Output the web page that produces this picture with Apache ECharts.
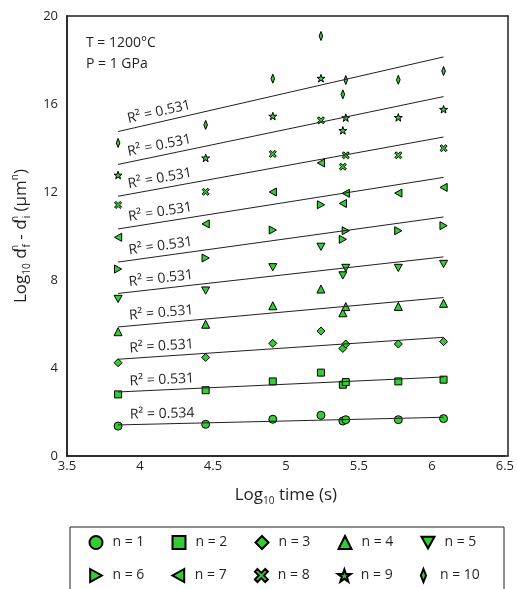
<!DOCTYPE html>
<html>
<head>
<meta charset="utf-8">
<script src="https://cdn.jsdelivr.net/npm/echarts@6/dist/echarts.min.js"></script>
<style>
html,body{margin:0;padding:0;background:#fff;}
#wrap{position:relative;width:517px;height:589px;}
#chart,#frame{position:absolute;left:0;top:0;width:517px;height:589px;}
#frame{pointer-events:none;}
</style>
</head>
<body>
<div id="wrap"><div id="chart"></div><div id="frame"></div></div>
<script>
// ---- data ----
const logTime = [3.85, 4.45, 4.91, 5.24, 5.39, 5.41, 5.77, 6.08];
const n1  = [1.36, 1.44, 1.67, 1.85, 1.59, 1.65, 1.65, 1.70];
const n2  = [2.80, 2.99, 3.39, 3.79, 3.24, 3.36, 3.39, 3.47];
const n3  = [4.24, 4.48, 5.12, 5.68, 4.89, 5.09, 5.09, 5.20];
const n4  = [5.65, 5.99, 6.83, 7.59, 6.51, 6.79, 6.80, 6.94];
const n5  = [7.14, 7.52, 8.58, 9.51, 8.21, 8.55, 8.55, 8.73];
const n6  = [8.50, 9.00, 10.27, 11.42, 9.85, 10.24, 10.24, 10.47];
const n7  = [9.94, 10.55, 12.00, 13.32, 11.48, 11.94, 11.95, 12.21];
const n8  = [11.41, 12.01, 13.73, 15.26, 13.15, 13.67, 13.67, 13.99];
const n9  = [12.77, 13.55, 15.45, 17.17, 14.80, 15.38, 15.39, 15.76];
const n10 = [14.23, 15.05, 17.15, 19.09, 16.44, 17.09, 17.10, 17.50];
const seriesNames = ['n = 1','n = 2','n = 3','n = 4','n = 5','n = 6','n = 7','n = 8','n = 9','n = 10'];
const rSquared = ['0.534','0.531','0.531','0.531','0.531','0.531','0.531','0.531','0.531','0.531'];
const xTicks = {min: 3.5, max: 6.5, interval: 0.5};
const yTicks = {min: 0, max: 20, interval: 4};

// ---- styles ----
const FONT = 'Open Sans';
const INK = '#231f20';
const GREEN = '#33cc33';
const GRID = {left: 67, right: 9, top: 16, bottom: 133};
const symbols = [
  'circle',
  'rect',
  'diamond',
  'triangle',
  'path://M0,0L10,0L5,9Z',
  'path://M0,0L9,5L0,10Z',
  'path://M9,0L0,5L9,10Z',
  'path://M0,2L2,0L5,3L8,0L10,2L7,5L10,8L8,10L5,7L2,10L0,8L3,5Z',
  'path://M50,0L61.8,35.1L97.6,34.5L68.9,56L79.4,90.5L50,69.5L20.6,90.5L31.1,56L2.4,34.5L38.2,35.1Z',
  'path://M2,0L4,5L2,10L0,5Z'
];
const symSizes = [8, 7, 8, 8, 8, 8, 8, 7, 8, 9];
const allY = [n1, n2, n3, n4, n5, n6, n7, n8, n9, n10];

function fit(xs, ys) {
  const n = xs.length;
  const mx = xs.reduce((a, b) => a + b, 0) / n;
  const my = ys.reduce((a, b) => a + b, 0) / n;
  let sxy = 0, sxx = 0;
  for (let i = 0; i < n; i++) { sxy += (xs[i] - mx) * (ys[i] - my); sxx += (xs[i] - mx) ** 2; }
  const b = sxy / sxx;
  return {b: b, a: my - b * mx};
}

const xMin = Math.min(...logTime), xMax = Math.max(...logTime);
const series = allY.map((ys, i) => {
  const f = fit(logTime, ys);
  return {
    name: seriesNames[i],
    type: 'scatter',
    data: logTime.map((x, j) => [x, ys[j]]),
    symbol: symbols[i],
    symbolSize: symSizes[i],
    symbolKeepAspect: true,
    itemStyle: {color: GREEN, borderColor: '#000', borderWidth: 1, opacity: 1},
    emphasis: {disabled: true},
    markLine: {
      silent: true,
      symbol: ['none', 'none'],
      animation: false,
      lineStyle: {color: INK, width: 1, type: 'solid'},
      label: {
        show: true,
        position: 'insideStartTop',
        distance: [12, 3],
        formatter: 'R\u00b2 = ' + rSquared[i],
        fontFamily: FONT,
        fontSize: 14,
        color: INK
      },
      emphasis: {disabled: true},
      data: [[{coord: [xMin, f.a + f.b * xMin]}, {coord: [xMax, f.a + f.b * xMax]}]]
    }
  };
});

const rich = {
  m: {fontFamily: FONT, fontSize: 17, color: INK, lineHeight: 22, verticalAlign: 'middle'},
  sub: {fontFamily: FONT, fontSize: 10, color: INK, lineHeight: 10, verticalAlign: 'bottom'},
  sup: {fontFamily: FONT, fontSize: 10, color: INK, lineHeight: 10, verticalAlign: 'top'},
  supz: {fontFamily: FONT, fontSize: 10, color: INK, lineHeight: 10, verticalAlign: 'top', width: 1}
};

// main chart: points, fits, labels, axis titles, legend
const chart = echarts.init(document.getElementById('chart'));
chart.setOption({
  animation: false,
  backgroundColor: '#fff',
  textStyle: {fontFamily: FONT, color: INK},
  title: {
    text: 'T = 1200\u00b0C\nP = 1 GPa',
    left: 86, top: 33, padding: 0,
    textStyle: {fontFamily: FONT, fontSize: 14, fontWeight: 'normal', color: INK, lineHeight: 20.5}
  },
  grid: GRID,
  xAxis: {
    type: 'value', position: 'bottom', min: xTicks.min, max: xTicks.max, interval: xTicks.interval,
    axisLine: {show: true, lineStyle: {color: INK, width: 1.5}},
    axisTick: {show: false},
    splitLine: {show: false},
    axisLabel: {fontFamily: FONT, fontSize: 13, color: INK, margin: 4, formatter: v => String(+v.toFixed(1))},
    name: '{m|Log}{sub|10}{m| time (s)}',
    nameLocation: 'middle', nameGap: 28,
    nameTextStyle: {rich: rich}
  },
  yAxis: {
    type: 'value', position: 'left', min: yTicks.min, max: yTicks.max, interval: yTicks.interval,
    axisLine: {show: true, lineStyle: {color: INK, width: 1.5}},
    axisTick: {show: false},
    splitLine: {show: false},
    axisLabel: {fontFamily: FONT, fontSize: 13, color: INK, margin: 9},
    name: '{m|Log}{sub|10}{m| d}{supz|n}{sub|f}{m| - d}{supz|n}{sub|i}{m| (\u00b5m}{sup|n}{m|)}',
    nameLocation: 'middle', nameGap: 23, nameRotate: 90,
    nameTextStyle: {rich: rich}
  },
  legend: {
    data: seriesNames,
    left: 70, top: 527, width: 420,
    orient: 'horizontal',
    padding: [8, 18.5, 30, 18.5],
    borderColor: INK, borderWidth: 1,
    itemWidth: 13, itemHeight: 13, itemGap: 18,
    selectedMode: false,
    textStyle: {fontFamily: FONT, fontSize: 14, color: INK, width: 41, lineHeight: 14, padding: [0, 0, 0, 5]}
  },
  series: series
});

// overlay: plot frame with inward major/minor ticks on all four sides (same grid and scales)
function frameAxis(pos, t) {
  return {
    type: 'value', position: pos,
    min: t.min, max: t.max, interval: t.interval,
    axisLine: {show: true, onZero: false, lineStyle: {color: INK, width: 1.5}},
    axisTick: {show: true, inside: true, length: 14, lineStyle: {color: '#333', width: 1}},
    minorTick: {show: true, splitNumber: 2, length: 7, lineStyle: {color: '#333', width: 1}},
    splitLine: {show: false},
    axisLabel: {show: false}
  };
}
const frame = echarts.init(document.getElementById('frame'));
frame.setOption({
  animation: false,
  grid: GRID,
  xAxis: [frameAxis('bottom', xTicks), frameAxis('top', xTicks)],
  yAxis: [frameAxis('left', yTicks), frameAxis('right', yTicks)],
  series: [{type: 'scatter', silent: true, symbolSize: 0, itemStyle: {opacity: 0}, data: logTime.map((x, j) => [x, n1[j]])}]
});
</script>
</body>
</html>
